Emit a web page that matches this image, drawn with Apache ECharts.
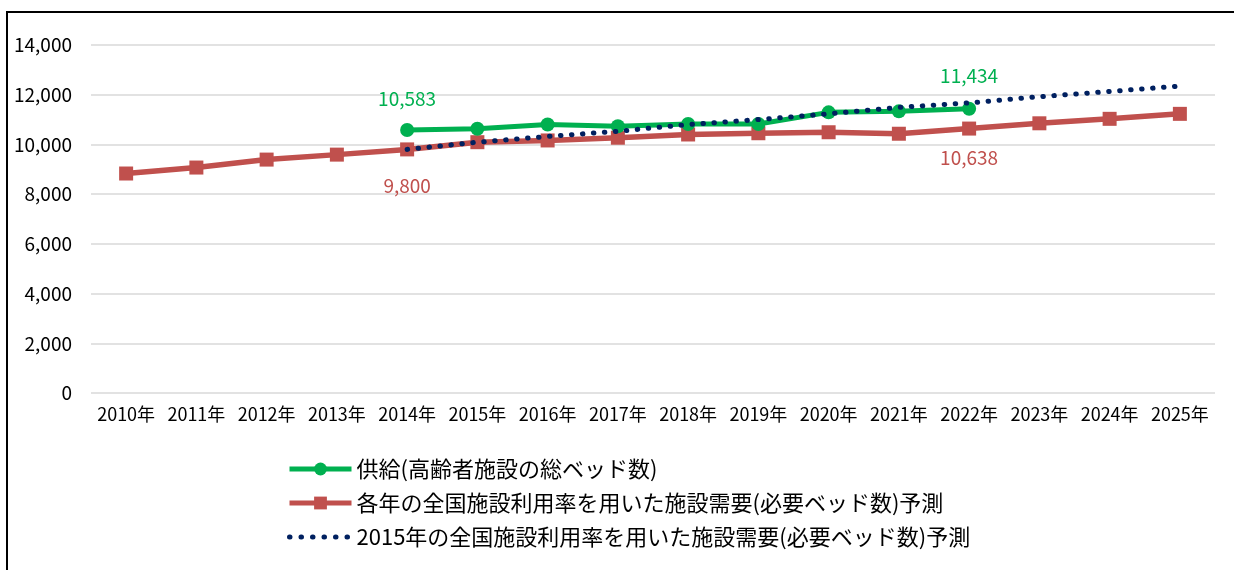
<!DOCTYPE html>
<html lang="ja">
<head>
<meta charset="UTF-8">
<title>施設需要予測</title>
<style>
  html, body { margin: 0; padding: 0; background: #fff; }
  #chart { width: 1234px; height: 570px; }
</style>
<script src="https://cdn.jsdelivr.net/npm/echarts@6/dist/echarts.min.js"></script>
</head>
<body>
<div id="chart"></div>
<script>
// 年（横軸）
var years = ['2010年', '2011年', '2012年', '2013年', '2014年', '2015年', '2016年', '2017年',
  '2018年', '2019年', '2020年', '2021年', '2022年', '2023年', '2024年', '2025年'];

// 供給(高齢者施設の総ベッド数)
var supply = [null, null, null, null, 10583, 10630, 10800, 10730, 10820, 10820, 11290, 11330, 11434, null, null, null];

// 各年の全国施設利用率を用いた施設需要予測
var demandEachYear = [8830, 9070, 9390, 9590, 9800, 10090, 10160, 10270, 10400, 10450, 10490, 10430, 10638, 10850, 11030, 11230];

// 2015年の全国施設利用率を用いた施設需要予測
var demand2015 = [null, null, null, null, 9800, 10090, 10320, 10530, 10800, 11000, 11230, 11490, 11670, 11920, 12130, 12350];

var names = [
  '供給(高齢者施設の総ベッド数)',
  '各年の全国施設利用率を用いた施設需要(必要ベッド数)予測',
  '2015年の全国施設利用率を用いた施設需要(必要ベッド数)予測'
];

var FONT = '"Noto Sans CJK JP", "Noto Sans", sans-serif';
var GREEN = '#00B050', RED = '#C0504D', NAVY = '#002060';

// ラベルを出す点だけ（index -> 距離）
function withLabels(arr, labels, pos) {
  return arr.map(function (v, i) {
    if (labels[i] == null) return v;
    return { value: v, label: { show: true, position: pos, distance: labels[i] } };
  });
}

function fmt(p) { return p.value.toLocaleString('en-US'); }

var chart = echarts.init(document.getElementById('chart'));
chart.setOption({
  animation: false,
  textStyle: { fontFamily: FONT },
  graphic: [{
    type: 'rect',
    shape: { x: 7, y: 12, width: 1400, height: 700 },
    style: { fill: 'none', stroke: '#000', lineWidth: 2 },
    silent: true
  }],
  grid: { left: 91, right: 19, top: 45, bottom: 177, containLabel: false },
  xAxis: {
    type: 'category',
    data: years,
    boundaryGap: true,
    axisLine: { show: false },
    axisTick: { show: false },
    axisLabel: { color: '#000', fontSize: 18, fontFamily: FONT, margin: 12, interval: 0 }
  },
  yAxis: {
    type: 'value',
    min: 0, max: 14000, interval: 2000,
    axisLine: { show: false },
    axisTick: { show: false },
    splitLine: { lineStyle: { color: '#d9d9d9', width: 1.5 } },
    axisLabel: {
      color: '#000', fontSize: 19, fontFamily: FONT, margin: 19,
      formatter: function (v) { return v.toLocaleString('en-US'); }
    }
  },
  legend: {
    orient: 'vertical',
    left: 282, top: 453,
    itemWidth: 62, itemHeight: 16, itemGap: 12,
    textStyle: { fontSize: 22, color: '#000', fontFamily: FONT },
    data: [
      { name: names[0], lineStyle: { width: 5 } },
      { name: names[1], lineStyle: { width: 5 } },
      { name: names[2], itemStyle: { opacity: 0 },
        lineStyle: { width: 5, type: [0.5, 11], cap: 'round' } }
    ]
  },
  series: [
    {
      name: names[1],
      type: 'line',
      data: withLabels(demandEachYear, { 4: 20, 12: 13 }, 'bottom'),
      symbol: 'rect', symbolSize: 14,
      lineStyle: { color: RED, width: 5.5 },
      itemStyle: { color: RED },
      label: { color: RED, fontSize: 19, fontFamily: FONT, formatter: fmt },
      z: 2
    },
    {
      name: names[0],
      type: 'line',
      data: withLabels(supply, { 4: 15, 12: 17 }, 'top'),
      symbol: 'circle', symbolSize: 14,
      connectNulls: false,
      lineStyle: { color: GREEN, width: 5 },
      itemStyle: { color: GREEN },
      label: { color: GREEN, fontSize: 19, fontFamily: FONT, formatter: fmt },
      z: 3
    },
    {
      name: names[2],
      type: 'line',
      data: demand2015,
      symbol: 'none',
      lineStyle: { color: NAVY, width: 5, type: [0.5, 10.5], cap: 'round' },
      itemStyle: { color: NAVY },
      z: 4
    }
  ]
});
</script>
</body>
</html>
